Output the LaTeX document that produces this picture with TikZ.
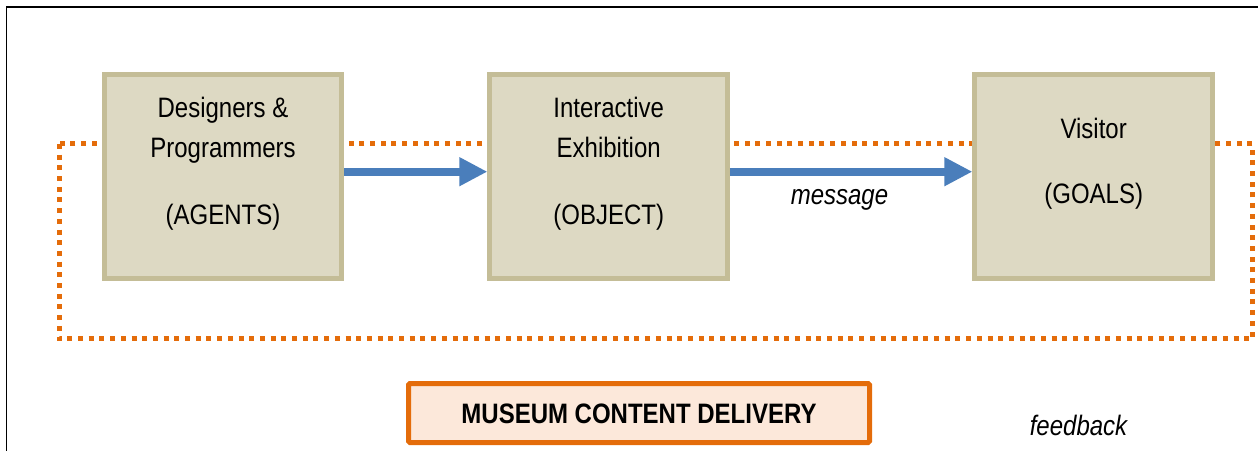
\documentclass[tikz,border=0pt]{standalone}
\usepackage{fontspec}
\setmainfont{Liberation Sans}
\usetikzlibrary{arrows.meta, positioning}

\definecolor{boxfill}{HTML}{DDD9C3}
\definecolor{boxline}{HTML}{C4BD97}
\definecolor{loopline}{HTML}{E46C0A}
\definecolor{flowline}{HTML}{4A7EBB}
\definecolor{titlefill}{HTML}{FCE8DA}

\tikzset{
  block/.style={draw=boxline, fill=boxfill, line width=5pt, minimum width=237.5pt, minimum height=204pt, inner sep=0pt},
  blocktext/.style={font=\fontsize{24}{34.2}\selectfont, align=center, yscale=1.17, transform shape, inner sep=0pt},
  flow/.style={draw=flowline, line width=8pt, -{Triangle[length=28pt, width=27pt]}},
  loop/.style={draw=loopline, line width=5pt, dash pattern=on 5pt off 5.7pt},
  note/.style={font=\fontsize{24}{28}\selectfont\itshape, yscale=1.17, transform shape, inner sep=0pt}
}

\begin{document}
\begin{tikzpicture}[x=1pt, y=1pt]
  \useasboundingbox (0,0) rectangle (1258,450);
  % outer frame, only left and top edges in view
  \draw[line width=1.3pt] (6.7,-5) -- (6.7,443) -- (1265,443);
  % feedback loop behind the blocks
  \draw[loop] (59,306) rectangle (1252.5,111);

  \node[block] (agents) at (223,273) {};
  \node[block] (object) at (608.7,273) {};
  \node[block] (goals) at (1093.7,273) {};

  \node[blocktext] at ([yshift=13]agents.center) {Designers \&\\Programmers\\[23pt](AGENTS)};
  \node[blocktext] at ([yshift=13]object.center) {Interactive\\Exhibition\\[23pt](OBJECT)};
  \node[blocktext] at ([yshift=13]goals.center) {Visitor\\[21.4pt](GOALS)};

  \draw[flow] ([yshift=5.3]agents.east) -- ([yshift=5.3]object.west);
  \draw[flow] ([yshift=5.3]object.east) -- ([yshift=5.3]goals.west);

  \node[note, anchor=base] (msg) at (839.5,245) {message};

  % title box
  \node[draw=loopline, fill=titlefill, line width=5pt, rounded corners=1.5pt, minimum width=461pt, minimum height=59pt] (title) at (639,37) {};
  \node[font=\fontsize{24}{28}\selectfont\bfseries, yscale=1.17, transform shape, inner sep=0pt, anchor=base] at (639,27) {MUSEUM CONTENT DELIVERY};

  \node[note, anchor=base] (fb) at (1078.5,15) {feedback};
\end{tikzpicture}
\end{document}
